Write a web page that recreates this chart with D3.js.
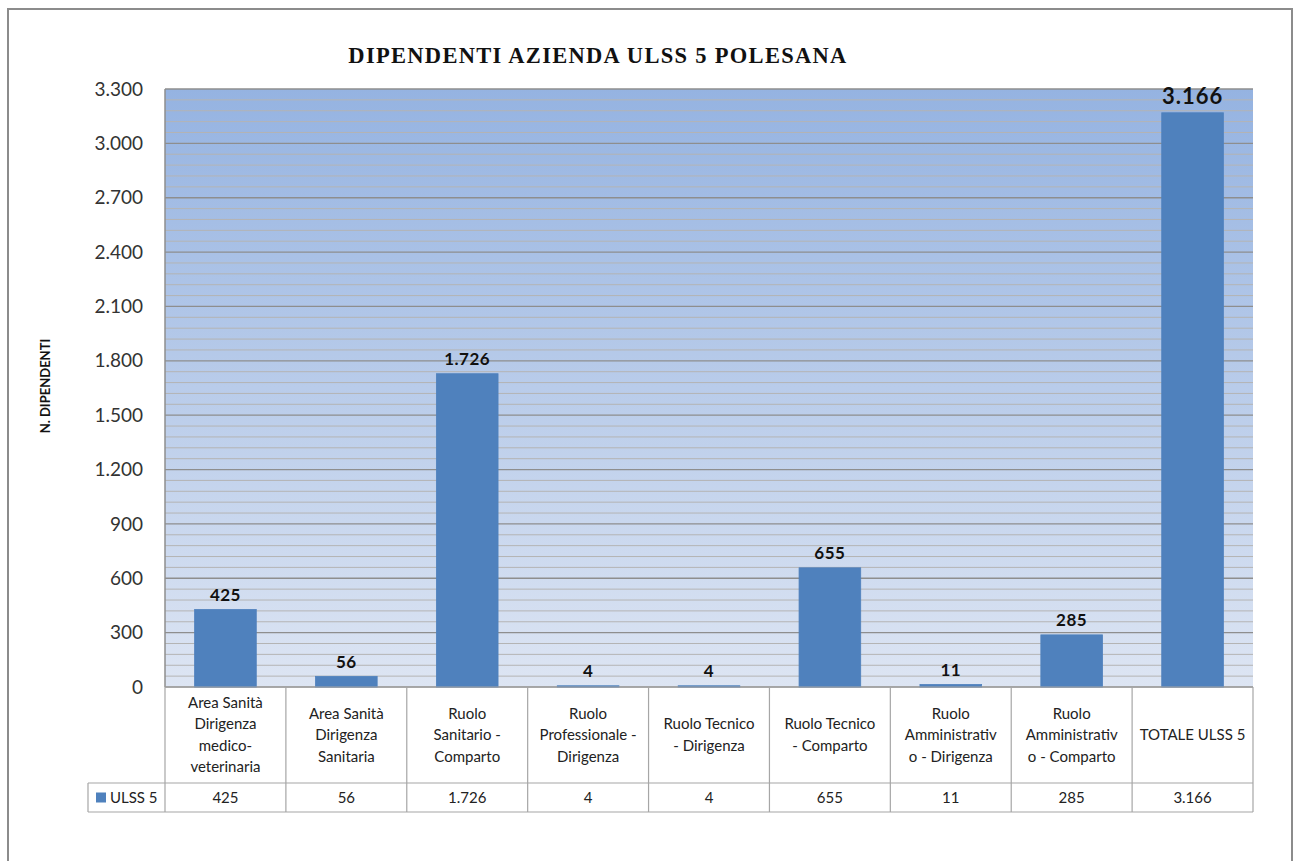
<!DOCTYPE html>
<html>
<head>
<meta charset="utf-8">
<script src="https://cdn.jsdelivr.net/npm/d3@7"></script>
<style>
  body { margin: 0; background: #fff; }
  svg { display: block; }
</style>
</head>
<body>
<svg id="chart"></svg>
<script>
const width = 1298;
const height = 861;

// data
const categories = [
  ["Area Sanità", "Dirigenza", "medico-", "veterinaria"],
  ["Area Sanità", "Dirigenza", "Sanitaria"],
  ["Ruolo", "Sanitario -", "Comparto"],
  ["Ruolo", "Professionale -", "Dirigenza"],
  ["Ruolo Tecnico", "- Dirigenza"],
  ["Ruolo Tecnico", "- Comparto"],
  ["Ruolo", "Amministrativ", "o - Dirigenza"],
  ["Ruolo", "Amministrativ", "o - Comparto"],
  ["TOTALE ULSS 5"]
];
const values = [425, 56, 1726, 4, 4, 655, 11, 285, 3166];
const seriesName = "ULSS 5";
const yTicks = d3.range(0, 3301, 300);
const yMinor = d3.range(0, 3301, 60);

const it = d3.formatLocale({ decimal: ",", thousands: ".", grouping: [3], currency: ["", " €"] });
const fmt = it.format(",d");

const plot = { left: 165, right: 1253, top: 89, bottom: 687 };
const tableRow1 = 783, tableRow2 = 812, legendLeft = 88;

const svg = d3.select("#chart").attr("width", width).attr("height", height);

// outer frame
svg.append("rect")
  .attr("x", 8).attr("y", 9).attr("width", 1284).attr("height", 870)
  .attr("fill", "#fff").attr("stroke", "#8c8c8c").attr("stroke-width", 2);

const defs = svg.append("defs");
const grad = defs.append("linearGradient").attr("id", "bg")
  .attr("x1", 0).attr("y1", 0).attr("x2", 0).attr("y2", 1);
grad.append("stop").attr("offset", "0%").attr("stop-color", "rgb(149,179,225)");
grad.append("stop").attr("offset", "100%").attr("stop-color", "rgb(221,229,243)");

const x = d3.scaleBand()
  .domain(d3.range(categories.length))
  .range([plot.left, plot.right])
  .paddingInner(0).paddingOuter(0);

const y = d3.scaleLinear().domain([0, 3300]).range([plot.bottom, plot.top]);

// plot background
svg.append("rect")
  .attr("x", plot.left).attr("y", plot.top)
  .attr("width", plot.right - plot.left).attr("height", plot.bottom - plot.top)
  .attr("fill", "url(#bg)");

// minor gridlines
svg.append("g").selectAll("line")
  .data(yMinor.filter(v => v % 300 !== 0))
  .join("line")
  .attr("x1", plot.left).attr("x2", plot.right)
  .attr("y1", d => y(d)).attr("y2", d => y(d))
  .attr("stroke", "#b4b4b4").attr("stroke-width", 1);

// major gridlines
svg.append("g").selectAll("line")
  .data(yTicks)
  .join("line")
  .attr("x1", plot.left).attr("x2", plot.right)
  .attr("y1", d => y(d)).attr("y2", d => y(d))
  .attr("stroke", "#8e8e8e").attr("stroke-width", 1.3);

// plot border left
svg.append("line").attr("x1", plot.left).attr("x2", plot.left)
  .attr("y1", plot.top).attr("y2", plot.bottom)
  .attr("stroke", "#8e8e8e").attr("stroke-width", 1.5);

// bars
const barW = x.bandwidth() * 0.51;
svg.append("g").selectAll("rect")
  .data(values)
  .join("rect")
  .attr("x", (d, i) => x(i) + (x.bandwidth() - barW) / 2)
  .attr("y", d => y(d) - 0.5)
  .attr("width", barW)
  .attr("height", d => plot.bottom - y(d) + 0.5)
  .attr("fill", "#4f81bd")
  .attr("stroke", "#4f81bd")
  .attr("stroke-width", 0.8);

// data labels
svg.append("g").selectAll("text")
  .data(values)
  .join("text")
  .attr("x", (d, i) => x(i) + x.bandwidth() / 2)
  .attr("y", d => y(d) - 9)
  .attr("text-anchor", "middle")
  .attr("font-family", "Lato, 'Open Sans', sans-serif")
  .attr("font-weight", "bold")
  .attr("font-size", (d, i) => i === values.length - 1 ? 22 : 17)
  .attr("letter-spacing", (d, i) => i === values.length - 1 ? 1 : 0.5)
  .attr("fill", "#111")
  .text(d => fmt(d));

// y axis
const yAxis = d3.axisLeft(y).tickValues(yTicks).tickFormat(fmt).tickSize(0).tickPadding(22);
const gy = svg.append("g").attr("transform", `translate(${plot.left},0)`).call(yAxis);
gy.select(".domain").remove();
gy.selectAll("text")
  .attr("font-family", "Lato, 'Open Sans', sans-serif")
  .attr("font-size", 19)
  .attr("fill", "#333");

// y title
svg.append("text")
  .attr("transform", "translate(50,386) rotate(-90)")
  .attr("text-anchor", "middle")
  .attr("font-family", "Lato, 'Open Sans', sans-serif")
  .attr("font-weight", "bold")
  .attr("font-size", 13)
  .attr("fill", "#111")
  .text("N. DIPENDENTI");

// chart title
svg.append("text")
  .attr("x", 598).attr("y", 63)
  .attr("text-anchor", "middle")
  .attr("font-family", "'Liberation Serif', 'DejaVu Serif', serif")
  .attr("font-weight", "bold")
  .attr("font-size", 22.5)
  .attr("letter-spacing", 1.3)
  .attr("fill", "#111")
  .text("DIPENDENTI AZIENDA ULSS 5 POLESANA");

// data table
const tbl = svg.append("g").attr("stroke", "#a6a6a6").attr("stroke-width", 1.2);
tbl.append("line").attr("x1", plot.left).attr("x2", plot.right).attr("y1", plot.bottom).attr("y2", plot.bottom);
tbl.append("line").attr("x1", legendLeft).attr("x2", plot.right).attr("y1", tableRow1).attr("y2", tableRow1);
tbl.append("line").attr("x1", legendLeft).attr("x2", plot.right).attr("y1", tableRow2).attr("y2", tableRow2);
tbl.append("line").attr("x1", legendLeft).attr("x2", legendLeft).attr("y1", tableRow1).attr("y2", tableRow2);
tbl.selectAll("line.v")
  .data(d3.range(categories.length + 1))
  .join("line")
  .attr("class", "v")
  .attr("x1", i => i < categories.length ? x(i) : plot.right)
  .attr("x2", i => i < categories.length ? x(i) : plot.right)
  .attr("y1", plot.bottom).attr("y2", tableRow2);

const lineH = 21.5;
const catG = svg.append("g")
  .attr("font-family", "Lato, 'Open Sans', sans-serif")
  .attr("font-size", 15)
  .attr("fill", "#222")
  .attr("text-anchor", "middle");
categories.forEach((lines, i) => {
  const cy = (plot.bottom + tableRow1) / 2;
  const t = catG.append("text").attr("x", x(i) + x.bandwidth() / 2);
  lines.forEach((ln, k) => {
    t.append("tspan")
      .attr("x", x(i) + x.bandwidth() / 2)
      .attr("y", cy + (k - (lines.length - 1) / 2) * lineH + 5)
      .text(ln);
  });
});

// value row
svg.append("g")
  .attr("font-family", "Lato, 'Open Sans', sans-serif")
  .attr("font-size", 15)
  .attr("fill", "#222")
  .attr("text-anchor", "middle")
  .selectAll("text")
  .data(values)
  .join("text")
  .attr("x", (d, i) => x(i) + x.bandwidth() / 2)
  .attr("y", (tableRow1 + tableRow2) / 2 + 5)
  .text(d => fmt(d));

// legend key
svg.append("rect")
  .attr("x", 96).attr("y", (tableRow1 + tableRow2) / 2 - 5)
  .attr("width", 10).attr("height", 10)
  .attr("fill", "#4f81bd");
svg.append("text")
  .attr("x", 110).attr("y", (tableRow1 + tableRow2) / 2 + 5)
  .attr("font-family", "Lato, 'Open Sans', sans-serif")
  .attr("font-size", 15)
  .attr("fill", "#222")
  .text(seriesName);
</script>
</body>
</html>
